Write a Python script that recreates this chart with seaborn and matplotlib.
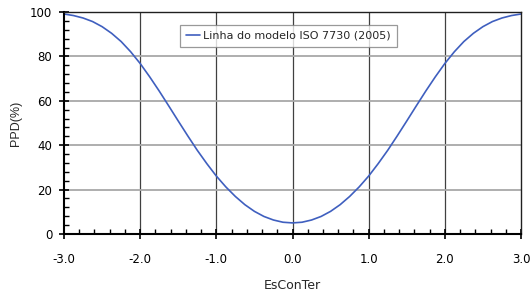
import matplotlib
matplotlib.use('Agg')
import matplotlib.pyplot as plt
import seaborn as sns
import pandas as pd
from matplotlib.ticker import MultipleLocator, FormatStrFormatter

# Data (PPD vs. thermal sensation scale)
escon = [-3.0, -2.875, -2.75, -2.625, -2.5, -2.375, -2.25, -2.125, -2.0, -1.875, -1.75, -1.625,
         -1.5, -1.375, -1.25, -1.125, -1.0, -0.875, -0.75, -0.625, -0.5, -0.375, -0.25, -0.125,
         0.0,
         0.125, 0.25, 0.375, 0.5, 0.625, 0.75, 0.875, 1.0, 1.125, 1.25, 1.375, 1.5,
         1.625, 1.75, 1.875, 2.0, 2.125, 2.25, 2.375, 2.5, 2.625, 2.75, 2.875, 3.0]
ppd = [99.1, 98.4, 97.3, 95.7, 93.4, 90.4, 86.7, 82.1, 76.8, 70.8, 64.4, 57.7,
       50.9, 44.2, 37.7, 31.7, 26.1, 21.2, 16.9, 13.2, 10.2, 7.9, 6.3, 5.3,
       5.0,
       5.3, 6.3, 7.9, 10.2, 13.2, 16.9, 21.2, 26.1, 31.7, 37.7, 44.2, 50.9,
       57.7, 64.4, 70.8, 76.8, 82.1, 86.7, 90.4, 93.4, 95.7, 97.3, 98.4, 99.1]
series_label = 'Linha do modelo ISO 7730 (2005)'
xlabel = 'EsConTer'
ylabel = 'PPD(%)'

df = pd.DataFrame({'EsConTer': escon, 'PPD': ppd})

sns.set_style('white')
plt.rcParams['font.family'] = ['DejaVu Sans']

W, H = 531, 294
fig = plt.figure(figsize=(W / 100, H / 100), dpi=100)
L, R, T, B = 64, 521, 12, 234
ax = fig.add_axes([L / W, 1 - B / H, (R - L) / W, (B - T) / H])

sns.lineplot(data=df, x='EsConTer', y='PPD', ax=ax, color='#3f5fbf', lw=1.2,
             label=series_label)

ax.set_xlim(-3, 3)
ax.set_ylim(0, 100)
ax.xaxis.set_major_locator(MultipleLocator(1))
ax.xaxis.set_minor_locator(MultipleLocator(0.2))
ax.yaxis.set_major_locator(MultipleLocator(20))
ax.yaxis.set_minor_locator(MultipleLocator(4))
ax.xaxis.set_major_formatter(FormatStrFormatter('%.1f'))

# grid lines
for xv in [-2, -1, 0, 1, 2]:
    ax.axvline(xv, color='#404040', lw=0.9, zorder=0)
for yv in [20, 40, 60, 80]:
    ax.axhline(yv, color='#a8a8a8', lw=1.3, zorder=0)

for s in ['left', 'bottom']:
    ax.spines[s].set_color('black')
    ax.spines[s].set_linewidth(1.5)
for s in ['top', 'right']:
    ax.spines[s].set_color('#202020')
    ax.spines[s].set_linewidth(1.0)

ax.tick_params(axis='both', which='major', direction='inout', length=7, width=1.2,
               colors='black', labelsize=8.5, bottom=True, left=True)
ax.tick_params(axis='both', which='minor', direction='in', length=3.5, width=1.0,
               colors='black', bottom=True, left=True)
ax.tick_params(axis='x', which='major', pad=10)
ax.tick_params(axis='y', which='major', pad=5)

ax.set_xlabel(xlabel, fontsize=9)
ax.set_ylabel(ylabel, fontsize=9, family=['Liberation Sans'])
ax.xaxis.set_label_coords(0.5, -(279 - B) / (B - T))
ax.yaxis.set_label_coords((22 - L) / (R - L), 0.5)

leg = ax.legend(loc='center', bbox_to_anchor=(0.491, 0.892), fontsize=8,
                frameon=True, fancybox=False, shadow=False, edgecolor='#808080',
                handlelength=1.3, handletextpad=0.3, borderpad=0.5)
leg.get_frame().set_linewidth(0.9)

fig.savefig('out.png', dpi=100)
